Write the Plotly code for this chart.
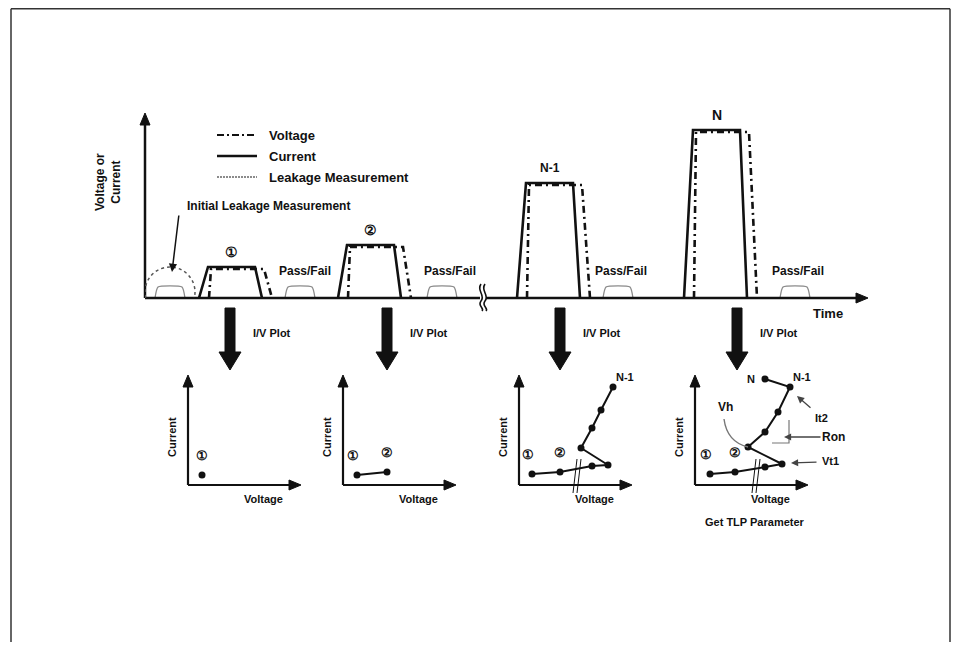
import plotly.graph_objects as go

# ── Data: TLP pulse train (time axis, arbitrary units) ─────────────────────────
PULSE_LABELS = ["①", "②", "N-1", "N"]
PULSE_START = [54, 193, 372, 539]
PULSE_HEIGHT = [31, 53, 115, 168]
PULSE_RISE, PULSE_TOP, PULSE_FALL = 9, 47, 7
VOLT_LAG = 10

LEAK_START = [10, 140, 282, 458, 635]
LEAK_WIDTH, LEAK_HEIGHT = 30, 11
PASSFAIL_T = [160, 305, 476, 653]
BREAK_T = 337

# ── Data: I/V plots (voltage, current; arbitrary units) ────────────────────────
IV_V = [
    [14],
    [14, 44],
    [13, 41, 73, 89, 62, 73, 82, 94],
    [15, 40, 70, 87, 53, 70, 83, 95, 70],
]
IV_I = [
    [10],
    [10, 13],
    [11, 13, 19, 20, 37, 57, 75, 98],
    [11, 13, 18, 21, 38, 53, 73, 98, 106],
]
IV_NUM_LABELS = [["①"], ["①", "②"], ["①", "②"], ["①", "②"]]

# ── Layout constants (screen pixels of the 959 x 650 window) ──────────────────
W, H = 959, 650
PAGE = 8                            # default body margin of the html page
FW, FH = W - 2 * PAGE, H - 2 * PAGE  # figure fits the window without scrolling
T_X0, T_Y0, T_X1, T_Y1 = 145, 298, 868, 113
IV_OX = [188, 343, 519, 695]
IV_OY = 485
IV_W, IV_H = 113, 110
ARROW_X = [230, 387, 560, 737]
FONT = "Liberation Sans, Arial, sans-serif"
INK = "#111111"


def dx(px):
    return (px - PAGE) / FW


def dy(py):
    return 1 - (py - PAGE) / FH


fig = go.Figure()

# ── Current and voltage pulses ────────────────────────────────────────────────
cx, cy, vx, vy = [], [], [], []
for t0, h in zip(PULSE_START, PULSE_HEIGHT):
    t1 = t0 + PULSE_RISE
    t2 = t1 + PULSE_TOP
    t3 = t2 + PULSE_FALL
    cx += [t0, t1, t2, t3, None]
    cy += [0, h, h, 0, None]
    vx += [t0 + VOLT_LAG, t1 + 3, t2 + 9, t3 + VOLT_LAG, None]
    vy += [0, h - 2, h - 2, 0, None]

fig.add_trace(go.Scatter(x=vx, y=vy, mode="lines", xaxis="x", yaxis="y",
                         line=dict(color=INK, width=2.6, dash="7px,4px,2px,4px")))
fig.add_trace(go.Scatter(x=cx, y=cy, mode="lines", xaxis="x", yaxis="y",
                         line=dict(color=INK, width=2.6)))

# leakage measurement bumps
lx, ly = [], []
for s in LEAK_START:
    lx += [s, s + 3, s + LEAK_WIDTH - 3, s + LEAK_WIDTH, None]
    ly += [0, LEAK_HEIGHT, LEAK_HEIGHT, 0, None]
fig.add_trace(go.Scatter(x=lx, y=ly, mode="lines", xaxis="x", yaxis="y",
                         line=dict(color="#8a8a8a", width=1.3, shape="spline", smoothing=0.5)))

annotations = []
for lab, t0, h in zip(PULSE_LABELS, PULSE_START, PULSE_HEIGHT):
    annotations.append(dict(x=t0 + PULSE_RISE + PULSE_TOP / 2, y=h + 15, xref="x", yref="y",
                            text=f"<b>{lab}</b>", showarrow=False,
                            font=dict(family=FONT, size=12 if len(lab) > 1 else 14, color=INK)))
for t in PASSFAIL_T:
    annotations.append(dict(x=t, y=27, xref="x", yref="y", text="<b>Pass/Fail</b>",
                            showarrow=False, font=dict(family=FONT, size=12, color=INK)))

# ── I/V plots ─────────────────────────────────────────────────────────────────
for k, (vv, ii) in enumerate(zip(IV_V, IV_I)):
    ax = f"x{k + 2}"
    ay = f"y{k + 2}"
    fig.add_trace(go.Scatter(x=vv, y=ii, mode="lines+markers", xaxis=ax, yaxis=ay,
                             line=dict(color=INK, width=2),
                             marker=dict(color=INK, size=7)))
    for j, lab in enumerate(IV_NUM_LABELS[k]):
        annotations.append(dict(x=vv[j] - (4 if k > 0 and j == 0 else 0), y=ii[j] + 19,
                                xref=ax, yref=ay, text=f"<b>{lab}</b>", showarrow=False,
                                font=dict(family=FONT, size=13, color=INK)))
    if k >= 2:
        annotations.append(dict(x=vv[7] + 12, y=ii[7] + 10, xref=ax, yref=ay,
                                text="<b>N-1</b>", showarrow=False,
                                font=dict(family=FONT, size=11, color=INK)))
    if k == 3:
        annotations.append(dict(x=vv[8] - 14, y=ii[8], xref=ax, yref=ay,
                                text="<b>N</b>", showarrow=False,
                                font=dict(family=FONT, size=11, color=INK)))

# canvas helper trace so the pixel axis exists
fig.add_trace(go.Scatter(x=[W / 2], y=[H / 2], mode="markers", xaxis="x6", yaxis="y6",
                         marker=dict(opacity=0), hoverinfo="skip"))

shapes = []
C = dict(xref="x6", yref="y6")

# frame (left, top, right edges; the bottom runs off the page)
FRAME = dict(color="#333", width=1.5)
shapes.append(dict(type="line", x0=11, y0=8.8, x1=11, y1=H - PAGE, line=FRAME, **C))
shapes.append(dict(type="line", x0=11, y0=8.8, x1=W - PAGE - 1, y1=8.8, line=FRAME, **C))
shapes.append(dict(type="line", x0=W - PAGE - 1, y0=8.8, x1=W - PAGE - 1, y1=H - PAGE, line=FRAME, **C))

# main axes
shapes.append(dict(type="line", x0=T_X0, y0=T_Y0, x1=T_X0, y1=T_Y1 + 8, line=dict(color=INK, width=2.5), **C))
shapes.append(dict(type="line", x0=T_X0, y0=T_Y0, x1=T_X1 - 8, y1=T_Y0, line=dict(color=INK, width=2.5), **C))
shapes.append(dict(type="path", path=f"M {T_X0 - 5},{T_Y1 + 12} L {T_X0},{T_Y1} L {T_X0 + 5},{T_Y1 + 12} Z",
                   fillcolor=INK, line=dict(color=INK, width=1), **C))
shapes.append(dict(type="path", path=f"M {T_X1 - 12},{T_Y0 - 5} L {T_X1},{T_Y0} L {T_X1 - 12},{T_Y0 + 5} Z",
                   fillcolor=INK, line=dict(color=INK, width=1), **C))

# break symbol on time axis
bx = T_X0 + BREAK_T
shapes.append(dict(type="rect", x0=bx - 2, y0=T_Y0 - 3, x1=bx + 4, y1=T_Y0 + 3,
                   fillcolor="white", line=dict(width=0), **C))
for off in (0, 4):
    shapes.append(dict(type="path",
                       path=f"M {bx - 1 + off},{T_Y0 - 14} C {bx - 6 + off},{T_Y0 - 7} {bx + 4 + off},{T_Y0 - 3} "
                            f"{bx - 1 + off},{T_Y0 + 3} C {bx - 5 + off},{T_Y0 + 8} {bx + 3 + off},{T_Y0 + 10} {bx + off},{T_Y0 + 13}",
                       line=dict(color=INK, width=1.6), **C))

# initial leakage dotted circle
shapes.append(dict(type="circle", x0=0, x1=50, y0=-19, y1=31, xref="x", yref="y",
                   line=dict(color="#555", width=1.5, dash="dot")))

# legend samples
shapes.append(dict(type="line", x0=217, x1=257, y0=135, y1=135,
                   line=dict(color=INK, width=2, dash="7px,3px,2px,3px"), **C))
shapes.append(dict(type="line", x0=217, x1=257, y0=156, y1=156, line=dict(color=INK, width=2.4), **C))
shapes.append(dict(type="line", x0=217, x1=257, y0=177, y1=177,
                   line=dict(color="#666", width=1.4, dash="2px,1px"), **C))

# big down arrows
for x in ARROW_X:
    shapes.append(dict(type="path",
                       path=f"M {x - 5},308 L {x + 5},308 L {x + 5},352 L {x + 11},352 L {x},370 "
                            f"L {x - 11},352 L {x - 5},352 Z",
                       fillcolor=INK, line=dict(color=INK, width=1), **C))

# I/V axes
for ox in IV_OX:
    shapes.append(dict(type="line", x0=ox, y0=IV_OY, x1=ox, y1=IV_OY - IV_H + 8, line=dict(color=INK, width=2.2), **C))
    shapes.append(dict(type="line", x0=ox, y0=IV_OY, x1=ox + IV_W - 8, y1=IV_OY, line=dict(color=INK, width=2.2), **C))
    shapes.append(dict(type="path",
                       path=f"M {ox - 5},{IV_OY - IV_H + 12} L {ox},{IV_OY - IV_H} L {ox + 5},{IV_OY - IV_H + 12} Z",
                       fillcolor=INK, line=dict(color=INK, width=1), **C))
    shapes.append(dict(type="path",
                       path=f"M {ox + IV_W - 12},{IV_OY - 5} L {ox + IV_W},{IV_OY} L {ox + IV_W - 12},{IV_OY + 5} Z",
                       fillcolor=INK, line=dict(color=INK, width=1), **C))

# break marks in plots 3 and 4
for ox, bo in ((IV_OX[2], 54), (IV_OX[3], 57)):
    for off in (0, 4):
        shapes.append(dict(type="line", x0=ox + bo + off, y0=IV_OY + 8, x1=ox + bo + off + 4, y1=IV_OY - 26,
                           line=dict(color=INK, width=1), **C))

# plot 4 parameter callouts
shapes.append(dict(type="path", path="M 724,419 Q 727,442 748,447", line=dict(color="#777", width=1.4), **C))
shapes.append(dict(type="path", path="M 772,443 L 789,443 L 789,420", line=dict(color="#777", width=1.2), **C))


# ── Text on canvas ────────────────────────────────────────────────────────────
def txt(x, y, s, size=12, angle=0, anchor="center"):
    annotations.append(dict(x=x, y=y, xref="x6", yref="y6", text=s, showarrow=False,
                            textangle=angle, xanchor=anchor,
                            font=dict(family=FONT, size=size, color=INK)))


def arrow(x, y, ax, ay, color=INK, width=1.5):
    annotations.append(dict(x=x, y=y, ax=ax, ay=ay, xref="x6", yref="y6", axref="x6", ayref="y6",
                            text="", showarrow=True, arrowhead=2, arrowsize=1.1,
                            arrowwidth=width, arrowcolor=color))


txt(108, 182, "<b>Voltage or<br>Current</b>", 12, -90)
txt(267, 135, "<b>Voltage</b>", 13, anchor="left")
txt(267, 156, "<b>Current</b>", 13, anchor="left")
txt(267, 177, "<b>Leakage Measurement</b>", 13, anchor="left")
txt(268, 206, "<b>Initial Leakage Measurement</b>", 12)
arrow(172, 272, 179, 214)
txt(828, 313, "<b>Time</b>", 13)

for x in ARROW_X:
    txt(x + 42, 333, "<b>I/V Plot</b>", 11)

for ox in IV_OX:
    txt(ox - 16, 437, "<b>Current</b>", 11, -90)
    txt(ox + 75, 499, "<b>Voltage</b>", 11)
txt(755, 522, "<b>Get TLP Parameter</b>", 11)

txt(725, 407, "<b>Vh</b>", 12)
txt(821, 418, "<b>It2</b>", 11)
arrow(797, 396, 812, 409, "#444", 1.3)
txt(833, 437, "<b>Ron</b>", 12)
arrow(784, 437, 822, 437, "#444", 1.3)
txt(830, 461, "<b>Vt1</b>", 11)
arrow(791, 463, 818, 462, "#444", 1.3)

# ── Axes ──────────────────────────────────────────────────────────────────────
hidden = dict(visible=False, fixedrange=True)
layout_axes = dict(
    xaxis=dict(domain=[dx(T_X0), dx(T_X1)], range=[0, T_X1 - T_X0], **hidden),
    yaxis=dict(domain=[dy(T_Y0), dy(T_Y1)], range=[0, T_Y0 - T_Y1], **hidden),
    xaxis6=dict(domain=[0, 1], range=[PAGE, W - PAGE], **hidden),
    yaxis6=dict(domain=[0, 1], range=[H - PAGE, PAGE], **hidden),
)
for k, ox in enumerate(IV_OX):
    layout_axes[f"xaxis{k + 2}"] = dict(domain=[dx(ox), dx(ox + IV_W)], range=[0, IV_W], **hidden)
    layout_axes[f"yaxis{k + 2}"] = dict(domain=[dy(IV_OY), dy(IV_OY - IV_H)], range=[0, IV_H], **hidden)

fig.update_layout(
    width=FW, height=FH, margin=dict(l=0, r=0, t=0, b=0),
    paper_bgcolor="white", plot_bgcolor="rgba(0,0,0,0)",
    showlegend=False, shapes=shapes, annotations=annotations,
    **layout_axes,
)

fig.write_html("out.html")
